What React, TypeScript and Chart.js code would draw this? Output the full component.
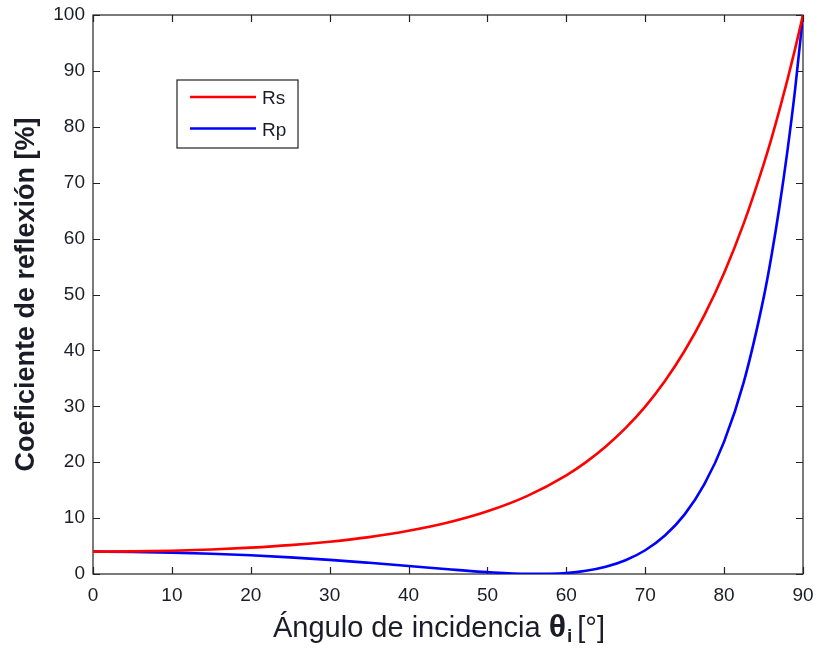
import React, { useEffect, useRef } from "react";
import { Chart, registerables } from "chart.js";

Chart.register(...registerables);

// Angle of incidence (degrees)
const angles = [0, 5, 10, 15, 20, 25, 30, 35, 40, 45, 50, 55, 60, 62.5, 65, 67.5, 70, 72.5, 75, 77.5, 80, 82.5, 85, 86, 87, 88, 89, 90];
// Reflection coefficient, s-polarisation (%)
const rsValues = [4.0, 4.04, 4.17, 4.38, 4.71, 5.16, 5.78, 6.6, 7.72, 9.2, 11.21, 13.93, 17.66, 20.02, 22.81, 26.09, 29.95, 34.53, 39.93, 46.32, 53.85, 62.76, 73.24, 77.89, 82.93, 88.26, 93.95, 100];
// Reflection coefficient, p-polarisation (%)
const rpValues = [4.0, 3.96, 3.83, 3.63, 3.35, 2.97, 2.53, 2.0, 1.43, 0.85, 0.33, 0.02, 0.18, 0.58, 1.3, 2.46, 4.25, 6.88, 10.67, 16.06, 23.68, 34.37, 49.35, 56.9, 65.57, 75.43, 86.69, 100];

const seriesLabels = ["Rs", "Rp"];
const seriesColors = ["#ff0000", "#0000ff"];
const xTickValues = [0, 10, 20, 30, 40, 50, 60, 70, 80, 90];
const yTickValues = [0, 10, 20, 30, 40, 50, 60, 70, 80, 90, 100];
const yTitle = "Coeficiente de reflexión [%]";
const xTitleMain = "Ángulo de incidencia ";
const xTitleSymbol = "θ";
const xTitleSub = "i";
const xTitleUnit = " [°]";

const FONT = "'Liberation Sans', Arial, Helvetica, sans-serif";
const TEXT = "#1c1c28";

const zeroPad = (s: any) => {
  s.paddingLeft = 0;
  s.paddingRight = 0;
  s.paddingTop = 0;
  s.paddingBottom = 0;
};

const frameTicks = {
  id: "frameTicks",
  beforeDatasetsDraw(chart: any) {
    const { ctx, chartArea: a, scales } = chart;
    const len = 7;
    ctx.save();
    ctx.strokeStyle = "#222";
    ctx.lineWidth = 1.2;
    ctx.strokeRect(a.left, a.top, a.right - a.left, a.bottom - a.top);
    ctx.beginPath();
    xTickValues.forEach((v) => {
      const x = Math.round(scales.x.getPixelForValue(v)) + 0.5;
      ctx.moveTo(x, a.bottom);
      ctx.lineTo(x, a.bottom - len);
      ctx.moveTo(x, a.top);
      ctx.lineTo(x, a.top + len);
    });
    yTickValues.forEach((v) => {
      const y = Math.round(scales.y.getPixelForValue(v)) + 0.5;
      ctx.moveTo(a.left, y);
      ctx.lineTo(a.left + len, y);
      ctx.moveTo(a.right, y);
      ctx.lineTo(a.right - len, y);
    });
    ctx.stroke();
    ctx.restore();
  },
  afterDraw(chart: any) {
    const { ctx, chartArea: a } = chart;
    ctx.save();
    // legend box
    const bx = a.left + 84, by = a.top + 65, bw = 121, bh = 68;
    ctx.fillStyle = "#fff";
    ctx.fillRect(bx, by, bw, bh);
    ctx.strokeStyle = "#222";
    ctx.lineWidth = 1.2;
    ctx.strokeRect(bx, by, bw, bh);
    chart.data.datasets.forEach((ds: any, i: number) => {
      const y = by + 17 + i * 31.5;
      ctx.strokeStyle = ds.borderColor;
      ctx.lineWidth = 2.5;
      ctx.beginPath();
      ctx.moveTo(bx + 13, y);
      ctx.lineTo(bx + 79, y);
      ctx.stroke();
      ctx.fillStyle = TEXT;
      ctx.font = `19px ${FONT}`;
      ctx.textBaseline = "middle";
      ctx.textAlign = "left";
      ctx.fillText(ds.label, bx + 85, y + 2);
    });
    // x title with subscript
    const cx = 441;
    const baseY = 637;
    const fMain = `29px ${FONT}`;
    const fSym = `bold 32px ${FONT}`;
    const fSub = `bold 19px ${FONT}`;
    ctx.font = fMain;
    const w1 = ctx.measureText(xTitleMain).width;
    const w4 = ctx.measureText(xTitleUnit).width;
    ctx.font = fSym;
    const w2 = ctx.measureText(xTitleSymbol).width;
    ctx.font = fSub;
    const w3 = ctx.measureText(xTitleSub).width + 2;
    let x = cx - (w1 + w2 + w3 + w4) / 2;
    ctx.textAlign = "left";
    ctx.textBaseline = "alphabetic";
    ctx.fillStyle = TEXT;
    ctx.font = fMain;
    ctx.fillText(xTitleMain, x, baseY);
    x += w1;
    ctx.font = fSym;
    ctx.fillText(xTitleSymbol, x, baseY);
    x += w2 + 1;
    ctx.font = fSub;
    ctx.fillText(xTitleSub, x, baseY + 5);
    x += w3 - 1;
    ctx.font = fMain;
    ctx.fillText(xTitleUnit, x - 4, baseY);
    ctx.restore();
  },
};

export default function App() {
  const ref = useRef<HTMLCanvasElement | null>(null);
  useEffect(() => {
    if (!ref.current) return;
    const chart = new Chart(ref.current, {
      type: "line",
      data: {
        datasets: [
          {
            label: seriesLabels[0],
            data: angles.map((a, i) => ({ x: a, y: rsValues[i] })),
            borderColor: seriesColors[0],
            borderWidth: 2.6,
            pointRadius: 0,
            cubicInterpolationMode: "monotone",
            fill: false,
          },
          {
            label: seriesLabels[1],
            data: angles.map((a, i) => ({ x: a, y: rpValues[i] })),
            borderColor: seriesColors[1],
            borderWidth: 2.6,
            pointRadius: 0,
            cubicInterpolationMode: "monotone",
            fill: false,
          },
        ],
      },
      options: {
        animation: false,
        responsive: false,
        devicePixelRatio: 1,
        layout: { padding: { top: 15, right: 14, left: 0, bottom: 0 } },
        plugins: { legend: { display: false }, tooltip: { enabled: false } },
        scales: {
          x: {
            type: "linear",
            min: 0,
            max: 90,
            afterFit: (s: any) => { s.height = 74; zeroPad(s); },
            afterBuildTicks: (s: any) => { s.ticks = xTickValues.map((v) => ({ value: v })); },
            grid: { display: false, drawTicks: false },
            border: { display: false },
            ticks: { padding: 10, color: TEXT, font: { family: FONT, size: 19 }, maxRotation: 0 },
          },
          y: {
            type: "linear",
            min: 0,
            max: 100,
            afterFit: (s: any) => { s.width = 93; zeroPad(s); },
            afterBuildTicks: (s: any) => { s.ticks = yTickValues.map((v) => ({ value: v })); },
            grid: { display: false, drawTicks: false },
            border: { display: false },
            ticks: { padding: 8, color: TEXT, font: { family: FONT, size: 19 } },
            title: {
              display: true,
              text: yTitle,
              color: TEXT,
              font: { family: FONT, size: 27, weight: "bold" },
              padding: { top: 10, bottom: 0 },
            },
          },
        },
      },
      plugins: [frameTicks],
    });
    return () => chart.destroy();
  }, []);
  return (
    <div style={{ position: "absolute", left: 0, top: 0, width: 817, height: 648, background: "#fff" }}>
      <canvas ref={ref} width={817} height={648} />
    </div>
  );
}
